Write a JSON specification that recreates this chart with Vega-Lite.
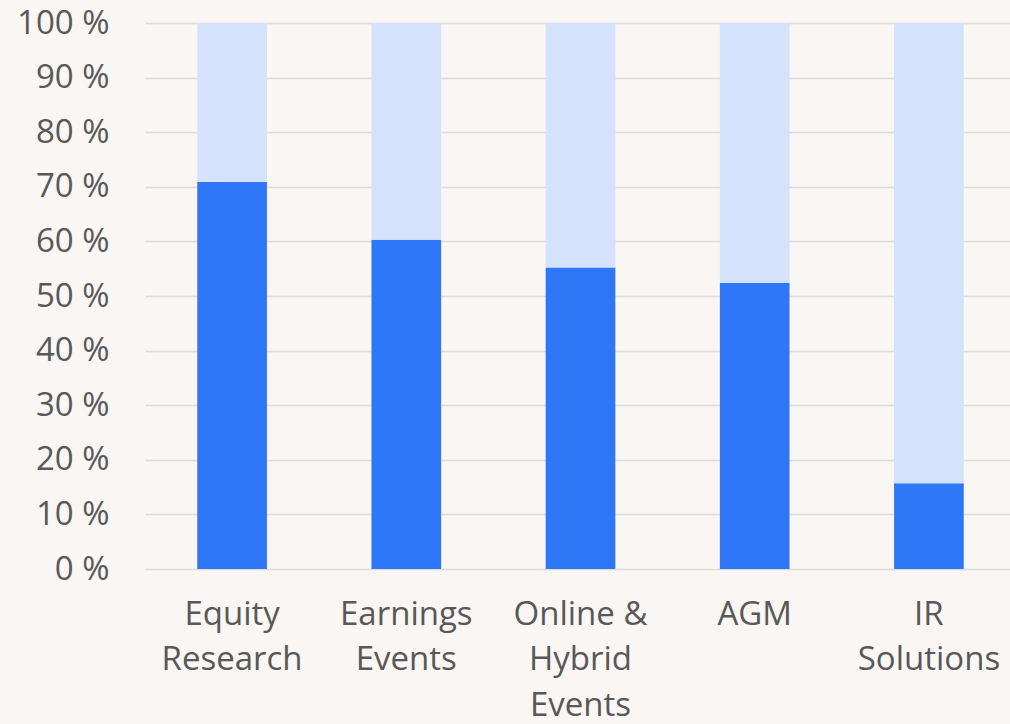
{
  "$schema": "https://vega.github.io/schema/vega-lite/v6.json",
  "autosize": {"type": "none"},
  "padding": {"left": 145, "top": 23, "right": 0, "bottom": 155},
  "width": 871,
  "height": 546,
  "background": "#f9f6f3",
  "data": {
    "values": [
      {"category": "Equity Research", "part": "yes", "order": 1, "value": 70.9},
      {"category": "Equity Research", "part": "no", "order": 2, "value": 29.1},
      {"category": "Earnings Events", "part": "yes", "order": 1, "value": 60.3},
      {"category": "Earnings Events", "part": "no", "order": 2, "value": 39.7},
      {"category": "Online & Hybrid Events", "part": "yes", "order": 1, "value": 55.2},
      {"category": "Online & Hybrid Events", "part": "no", "order": 2, "value": 44.8},
      {"category": "AGM", "part": "yes", "order": 1, "value": 52.4},
      {"category": "AGM", "part": "no", "order": 2, "value": 47.6},
      {"category": "IR Solutions", "part": "yes", "order": 1, "value": 15.7},
      {"category": "IR Solutions", "part": "no", "order": 2, "value": 84.3}
    ]
  },
  "config": {
    "view": {"stroke": null},
    "font": "Open Sans"
  },
  "mark": {"type": "bar"},
  "encoding": {
    "x": {
      "field": "category",
      "type": "nominal",
      "sort": null,
      "scale": {"paddingInner": 0.6, "paddingOuter": 0.3},
      "axis": {
        "title": null,
        "labelAngle": 0,
        "domain": false,
        "ticks": false,
        "labelFont": "Open Sans",
        "labelFontSize": 33,
        "labelColor": "#585858",
        "labelPadding": 29,
        "labelLineHeight": 45.5,
        "labelBaseline": "top",
        "labelExpr": "datum.value == 'Online & Hybrid Events' ? ['Online &', 'Hybrid', 'Events'] : split(datum.value, ' ')"
      }
    },
    "y": {
      "field": "value",
      "type": "quantitative",
      "stack": "zero",
      "scale": {"domain": [0, 100], "nice": false},
      "axis": {
        "title": null,
        "values": [0, 10, 20, 30, 40, 50, 60, 70, 80, 90, 100],
        "labelExpr": "datum.value + ' %'",
        "domain": false,
        "ticks": false,
        "labelFont": "Open Sans",
        "labelFontSize": 33,
        "labelColor": "#585858",
        "labelPadding": 36,
        "gridColor": "#dcdcdc",
        "gridWidth": 1.5
      }
    },
    "color": {
      "field": "part",
      "type": "nominal",
      "scale": {"domain": ["yes", "no"], "range": ["#2e78f8", "#d4e3fb"]},
      "legend": null
    },
    "order": {"field": "order", "type": "quantitative"}
  }
}
